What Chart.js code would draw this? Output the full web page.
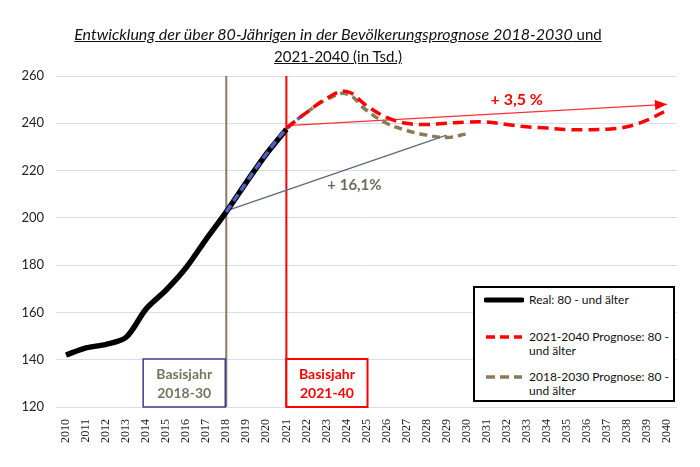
<!DOCTYPE html>
<html><head><meta charset="utf-8">
<script src="https://cdn.jsdelivr.net/npm/chart.js@4/dist/chart.umd.min.js"></script>
<style>
html,body{margin:0;padding:0;background:#fff;}
#wrap{position:relative;width:700px;height:467px;overflow:hidden;}
#c{position:absolute;left:0;top:0;}
#title{position:absolute;left:0;width:676px;top:23px;text-align:center;font-family:Lato,"Open Sans",sans-serif;font-size:16px;line-height:22px;color:#111;white-space:nowrap;}
#title span{text-decoration:underline;}
#title .l1{font-style:italic;}
#title .l2{font-size:15px;}
#legend{position:absolute;left:473px;top:286px;width:198px;height:112px;border:2px solid #000;font-family:Lato,"Open Sans",sans-serif;font-size:12px;color:#111;background:#fff;overflow:hidden;}
.item{position:absolute;left:9px;display:flex;align-items:flex-start;white-space:nowrap;}
.item svg{margin-top:4px;margin-right:5px;flex:none;}
.item div{line-height:14px;}
</style></head>
<body><div id="wrap">
<canvas id="c" width="700" height="467"></canvas>
<div id="title"><span class="l1">Entwicklung der über 80-Jährigen in der Bevölkerungsprognose 2018-2030</span><span class="l2"> und</span><br><span class="l2">2021-2040 (in Tsd.)</span></div>
<div id="legend">
 <div class="item" style="top:5px"><svg width="40" height="6"><line x1="2" y1="3" x2="38" y2="3" stroke="#000" stroke-width="5" stroke-linecap="round"/></svg><div>Real: 80 - und älter</div></div>
 <div class="item" style="top:42px"><svg width="40" height="6"><line x1="2" y1="3" x2="38" y2="3" stroke="#f00" stroke-width="3.5" stroke-dasharray="9,5"/></svg><div>2021-2040 Prognose: 80 -<br>und älter</div></div>
 <div class="item" style="top:82px"><svg width="40" height="6"><line x1="2" y1="3" x2="38" y2="3" stroke="#8a7b55" stroke-width="3.5" stroke-dasharray="9,5"/></svg><div>2018-2030 Prognose: 80 -<br>und älter</div></div>
</div>
</div>
<script>
const years = ['2010','2011','2012','2013','2014','2015','2016','2017','2018','2019','2020','2021','2022','2023','2024','2025','2026','2027','2028','2029','2030','2031','2032','2033','2034','2035','2036','2037','2038','2039','2040'];
const realYears = ['2010','2011','2012','2013','2014','2015','2016','2017','2018','2019','2020','2021'];
const realValues = [142,145,146.5,149.5,161.5,169.5,179,191,202.5,215,227,237.5];
const prog2018Years = ['2018','2019','2020','2021','2022','2023','2024','2025','2026','2027','2028','2029','2030'];
const prog2018Values = [202.5,215,227,237.5,244.5,250,252.5,245.5,240,237,235,234,235.5];
const prog2021Years = ['2021','2022','2023','2024','2025','2026','2027','2028','2029','2030','2031','2032','2033','2034','2035','2036','2037','2038','2039','2040'];
const prog2021Values = [238,244.5,250.5,253.5,247.5,242.5,240,239.5,240,240.5,240.5,239.5,238.5,238,237.3,237.3,237.5,238.5,241.3,245.5];
const trend2018Years = ['2018','2029'];
const trend2018Values = [203,235];
const trend2021Years = ['2021','2040'];
const trend2021Values = [239,248];
const yTicks = [120,140,160,180,200,220,240,260];
const baseYears = [{year:'2018', from:'2014', label:['Basisjahr','2018-30']},{year:'2021', to:'2025', label:['Basisjahr','2021-40']}];
const trendLabels = [{text:'+ 16,1%', year:2024.4, value:214, size:15},{text:'+ 3,5 %', year:2032.5, value:250, size:16}];

const pts = (xs, vs) => xs.map((x,i)=>({x:x, y:vs[i]}));
const idx = yr => yr - Number(years[0]);

const overlay = {
  id:'overlay',
  beforeDatasetsDraw(chart){
    const {ctx, chartArea:a, scales:{x,y}} = chart;
    ctx.save();
    ctx.lineWidth = 2;
    ctx.strokeStyle = '#8a7a62';
    let px = x.getPixelForValue(years.indexOf('2018'));
    ctx.beginPath(); ctx.moveTo(px, a.top); ctx.lineTo(px, a.bottom); ctx.stroke();
    ctx.strokeStyle = '#ff0000';
    px = x.getPixelForValue(years.indexOf('2021'));
    ctx.beginPath(); ctx.moveTo(px, a.top); ctx.lineTo(px, a.bottom); ctx.stroke();
    ctx.restore();
  },
  afterDatasetsDraw(chart){
    const {ctx, chartArea:a, scales:{x,y}} = chart;
    ctx.save();
    const x0 = x.getPixelForValue(years.indexOf(trend2021Years[0])), y0 = y.getPixelForValue(trend2021Values[0]);
    const x1 = x.getPixelForValue(years.indexOf(trend2021Years[1])), y1 = y.getPixelForValue(trend2021Values[1]);
    const ang = Math.atan2(y1-y0, x1-x0);
    ctx.fillStyle = '#ff0000';
    ctx.beginPath();
    ctx.moveTo(x1, y1);
    ctx.lineTo(x1 - 12*Math.cos(ang) + 5*Math.sin(ang), y1 - 12*Math.sin(ang) - 5*Math.cos(ang));
    ctx.lineTo(x1 - 12*Math.cos(ang) - 5*Math.sin(ang), y1 - 12*Math.sin(ang) + 5*Math.cos(ang));
    ctx.closePath(); ctx.fill();
    ctx.textAlign = 'center'; ctx.textBaseline = 'middle';
    const colors = ['#6b6b5c', '#ff0000'];
    trendLabels.forEach((t,i) => {
      ctx.font = 'bold ' + t.size + 'px Lato, "Open Sans", sans-serif';
      ctx.fillStyle = colors[i];
      ctx.fillText(t.text, x.getPixelForValue(idx(t.year)), y.getPixelForValue(t.value));
    });
    const top = a.bottom - 48;
    ctx.font = 'bold 14px Lato, "Open Sans", sans-serif';
    let bl = x.getPixelForValue(years.indexOf(baseYears[0].from)) - 3;
    let br = x.getPixelForValue(years.indexOf(baseYears[0].year)) - 1;
    ctx.fillStyle = '#fff'; ctx.fillRect(bl, top, br-bl, a.bottom-top);
    ctx.strokeStyle = '#3c3c8c'; ctx.lineWidth = 1.5;
    ctx.strokeRect(bl, top, br-bl, a.bottom-top);
    ctx.fillStyle = '#75755f';
    ctx.fillText(baseYears[0].label[0], (bl+br)/2, top+15);
    ctx.fillText(baseYears[0].label[1], (bl+br)/2, top+34);
    bl = x.getPixelForValue(years.indexOf(baseYears[1].year));
    br = x.getPixelForValue(years.indexOf(baseYears[1].to)) + 1;
    ctx.fillStyle = '#fff'; ctx.fillRect(bl, top, br-bl, a.bottom-top);
    ctx.strokeStyle = '#ff0000'; ctx.lineWidth = 2;
    ctx.strokeRect(bl, top, br-bl, a.bottom-top);
    ctx.fillStyle = '#ff0000';
    ctx.fillText(baseYears[1].label[0], (bl+br)/2, top+15);
    ctx.fillText(baseYears[1].label[1], (bl+br)/2, top+34);
    ctx.restore();
  }
};

new Chart(document.getElementById('c'), {
  type:'line',
  data:{
    labels: years,
    datasets:[
      {label:'2021-2040 Prognose: 80 - und älter', data:pts(prog2021Years, prog2021Values), borderColor:'#ff0000', borderWidth:3.5, borderDash:[11,6], tension:0.4, pointRadius:0, order:1},
      {label:'2018-2030 Prognose: 80 - und älter', data:pts(prog2018Years, prog2018Values), borderColor:'#8a7b55', borderWidth:3.5, borderDash:[8,5], tension:0.4, pointRadius:0, order:2,
        segment:{borderColor: c => c.p0DataIndex < 4 ? '#5060c8' : '#8a7b55'}},
      {label:'Real: 80 - und älter', data:pts(realYears, realValues), borderColor:'#000', borderWidth:5.5, tension:0.3, pointRadius:0, order:3},
      {label:'trend 2018', data:pts(trend2018Years, trend2018Values), borderColor:'#5a6a82', borderWidth:1.3, pointRadius:0, tension:0, order:4},
      {label:'trend 2021', data:pts(trend2021Years, trend2021Values), borderColor:'#ff3030', borderWidth:1.2, pointRadius:0, tension:0, order:4}
    ]
  },
  options:{
    responsive:false, animation:false,
    layout:{padding:{left:0, right:23, top:76, bottom:0}},
    plugins:{legend:{display:false}, tooltip:{enabled:false}, title:{display:false}},
    scales:{
      x:{type:'category', offset:true,
        grid:{display:false}, border:{display:false},
        ticks:{minRotation:90, maxRotation:90, autoSkip:false, color:'#222', padding:4,
          font:{family:'"Liberation Serif", serif', size:12}},
        afterFit(s){ s.height = 60; }
      },
      y:{min:120, max:260,
        afterBuildTicks(s){ s.ticks = yTicks.map(v=>({value:v})); },
        grid:{color:'#d9dcea', lineWidth:1, drawTicks:false}, border:{display:false},
        ticks:{color:'#222', padding:12, font:{family:'Lato, "Open Sans", sans-serif', size:13}},
        afterFit(s){ s.width = 56; }
      }
    }
  },
  plugins:[overlay]
});
</script>
</body></html>
